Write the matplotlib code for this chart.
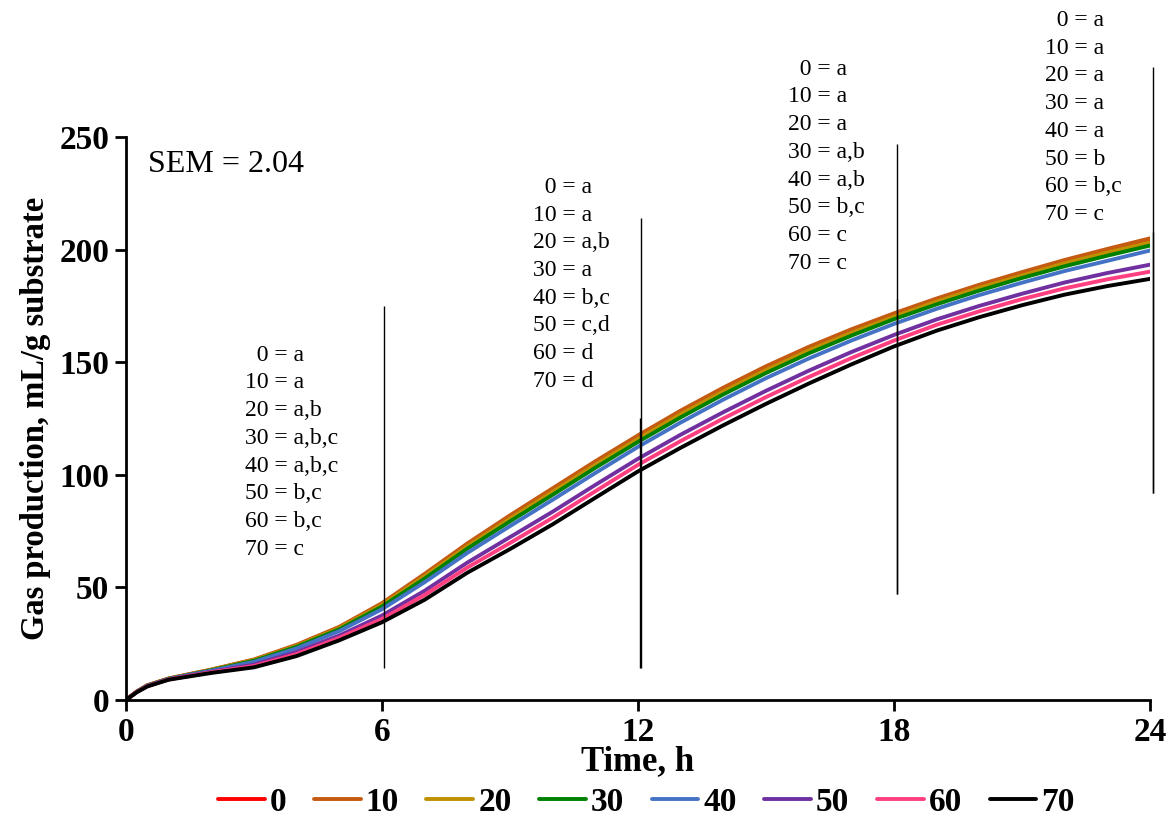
import matplotlib
matplotlib.use("Agg")
import matplotlib.pyplot as plt

plt.rcParams["font.family"] = ["Liberation Serif", "DejaVu Serif"]

# Incubation times (h)
hours = [0, 0.25, 0.5, 1, 1.5, 2, 3, 4, 5, 6, 7, 8, 9, 10, 11, 12,
         13, 14, 15, 16, 17, 18, 19, 20, 21, 22, 23, 24]

# Gas production (mL/g substrate) for each inclusion level
gp_0 = [0, 3.7, 6.5, 9.5, 11.5, 13.4, 17.8, 24.3, 32.2, 42.6, 55.4, 68.9, 81.3, 93.2, 105.2,
        116.7, 127.7, 137.9, 147.4, 156.0, 163.8, 171.0, 177.6, 183.7, 189.3, 194.6, 199.5, 204.1]
gp_10 = [0, 3.7, 6.5, 9.5, 11.5, 13.5, 18.0, 24.5, 32.5, 43.0, 56.0, 69.5, 82.0, 94.0, 106.0,
         117.5, 128.5, 138.7, 148.2, 156.8, 164.6, 171.7, 178.3, 184.4, 190.0, 195.4, 200.3, 205.0]
gp_20 = [0, 3.7, 6.5, 9.5, 11.4, 13.4, 17.7, 24.0, 31.9, 42.2, 54.9, 68.2, 80.5, 92.4, 104.4,
         115.9, 126.9, 137.0, 146.5, 155.2, 163.0, 170.2, 176.9, 183.0, 188.5, 193.9, 198.7, 203.2]
gp_30 = [0, 3.6, 6.4, 9.4, 11.3, 13.2, 17.4, 23.6, 31.4, 41.5, 53.9, 67.2, 79.3, 91.1, 103.1,
         114.6, 125.5, 135.7, 145.2, 153.9, 161.8, 169.1, 175.7, 181.8, 187.4, 192.6, 197.3, 201.8]
gp_40 = [0, 3.6, 6.3, 9.3, 11.2, 13.0, 16.9, 22.9, 30.6, 40.3, 52.3, 65.3, 77.2, 88.9, 100.8,
         112.4, 123.2, 133.4, 142.9, 151.6, 159.6, 167.0, 173.7, 179.8, 185.3, 190.5, 195.0, 199.6]
gp_50 = [0, 3.5, 6.2, 9.2, 10.9, 12.5, 15.7, 21.3, 28.6, 37.5, 48.5, 61.0, 72.3, 83.6, 95.5,
         107.1, 117.8, 127.8, 137.3, 146.2, 154.5, 162.1, 169.0, 175.0, 180.4, 185.4, 189.6, 193.3]
gp_60 = [0, 3.5, 6.1, 9.1, 10.7, 12.3, 15.1, 20.4, 27.6, 36.0, 46.6, 58.8, 69.7, 80.9, 92.7,
         104.4, 115.0, 125.0, 134.5, 143.4, 151.8, 159.6, 166.6, 172.6, 178.0, 182.8, 186.8, 190.2]
gp_70 = [0, 3.4, 6.0, 9.0, 10.5, 12.0, 14.5, 19.5, 26.5, 34.5, 44.5, 56.5, 67.0, 78.0, 89.8,
         101.5, 112.0, 122.0, 131.5, 140.5, 149.0, 157.0, 164.0, 170.0, 175.3, 180.0, 183.8, 187.0]

levels = ["0", "10", "20", "30", "40", "50", "60", "70"]
series = [gp_0, gp_10, gp_20, gp_30, gp_40, gp_50, gp_60, gp_70]
colors = ["#FF0000", "#C55A11", "#BF9000", "#008000", "#4472C4", "#7030A0", "#FF3F7F", "#000000"]

# Vertical marker lines at the sampling times (x, ymin, ymax)
mark_x = [6.05, 12.07, 12.05, 18.07, 18.06, 24.07, 24.06]
mark_lo = [14, 14, 14, 47, 47, 92, 92]
mark_hi = [175, 214, 125, 247, 178, 281, 208]

# Significance letters at each sampling time
letters_6 = ["a", "a", "a,b", "a,b,c", "a,b,c", "b,c", "b,c", "c"]
letters_12 = ["a", "a", "a,b", "a", "b,c", "c,d", "d", "d"]
letters_18 = ["a", "a", "a", "a,b", "a,b", "b,c", "c", "c"]
letters_24 = ["a", "a", "a", "a", "a", "b", "b,c", "c"]
block_x = [2.79, 9.54, 15.51, 21.54]
block_y = [157.8, 232.3, 284.8, 306.4]

fig = plt.figure(figsize=(11.75, 8.39), dpi=100)
ax = fig.add_axes([0.1072, 0.1657, 0.8715, 0.671])

for lev, vals, col in zip(levels, series, colors):
    ax.plot(hours, vals, color=col, lw=2.8, label=lev,
            solid_capstyle="round", solid_joinstyle="round")

ax.vlines(mark_x, mark_lo, mark_hi, colors="black", lw=1.0, clip_on=False)

for bx, by, letters in zip(block_x, block_y, [letters_6, letters_12, letters_18, letters_24]):
    lines = []
    for lev, let in zip(levels, letters):
        pad = "  " if len(lev) == 1 else ""
        lines.append(f"{pad}{lev} = {let}")
    ax.text(bx, by, "\n".join(lines), fontsize=17, ha="left", va="top",
            linespacing=1.42, clip_on=False)

ax.text(0.52, 238, "SEM = 2.04", fontsize=23, ha="left", va="center")

ax.set_xlim(0, 24)
ax.set_ylim(0, 250)
ax.set_xticks([0, 6, 12, 18, 24])
ax.set_yticks([0, 50, 100, 150, 200, 250])

for side in ["top", "right"]:
    ax.spines[side].set_visible(False)
for side in ["left", "bottom"]:
    ax.spines[side].set_linewidth(2)

ax.tick_params(axis="both", direction="out", length=8, width=2, labelsize=24, pad=4)
for lab in ax.get_xticklabels() + ax.get_yticklabels():
    lab.set_fontweight("bold")

ax.set_xlabel("Time, h", fontsize=25, fontweight="bold", labelpad=-2)
ax.set_ylabel("Gas production, mL/g substrate", fontsize=23.5, fontweight="bold", labelpad=6)

fig.legend(loc="center", bbox_to_anchor=(0.55, 0.044), ncol=8, frameon=False,
           prop={"weight": "bold", "size": 24}, handlelength=1.4, handletextpad=0.15,
           columnspacing=0.83, borderaxespad=0)

fig.savefig("out.png", dpi=100)
